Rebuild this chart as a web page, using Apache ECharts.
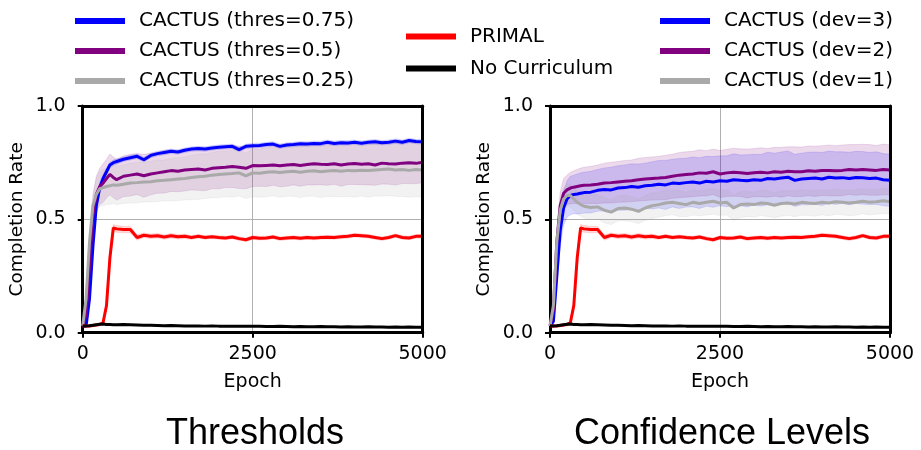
<!DOCTYPE html>
<html>
<head>
<meta charset="utf-8">
<script src="https://cdn.jsdelivr.net/npm/echarts@6/dist/echarts.min.js"></script>
<style>
  html, body { margin: 0; padding: 0; background: #fff; }
  #main { width: 921px; height: 450px; }
</style>
</head>
<body>
<div id="main"></div>
<script>
// epochs sampled from the curves
const epochs = [0,50,100,150,200,250,300,350,400,450,500,
  600,700,800,900,1000,1100,1200,1300,1400,1500,
  1600,1700,1800,1900,2000,2100,2200,2300,2400,2500,
  2600,2700,2800,2900,3000,3100,3200,3300,3400,3500,
  3600,3700,3800,3900,4000,4100,4200,4300,4400,4500,
  4600,4700,4800,4900,5000];

// left panel: thresholds
const thresBlue = [0.03,0.03,0.15,0.38,0.56,0.64,0.68,0.71,0.74,0.75,0.755,
  0.765,0.772,0.778,0.763,0.782,0.79,0.795,0.8,0.797,0.805,
  0.81,0.812,0.81,0.815,0.818,0.82,0.822,0.808,0.822,0.825,
  0.826,0.83,0.832,0.822,0.828,0.83,0.833,0.832,0.835,0.834,
  0.84,0.835,0.838,0.837,0.84,0.836,0.84,0.842,0.838,0.84,
  0.845,0.84,0.848,0.843,0.842];
const thresBlueStd = [0.003,0.005,0.02,0.03,0.03,0.025,0.02,0.015,0.012,0.012,0.012,
  0.01,0.01,0.01,0.01,0.01,0.01,0.01,0.01,0.01,0.01,
  0.01,0.01,0.01,0.01,0.01,0.01,0.01,0.01,0.01,0.01,
  0.01,0.01,0.01,0.01,0.01,0.01,0.01,0.01,0.01,0.01,
  0.01,0.01,0.01,0.01,0.01,0.01,0.01,0.01,0.01,0.01,
  0.01,0.01,0.01,0.01,0.01];
const thresPurple = [0.03,0.08,0.3,0.52,0.61,0.645,0.66,0.68,0.698,0.685,0.675,
  0.69,0.695,0.7,0.692,0.7,0.705,0.71,0.715,0.712,0.718,
  0.72,0.722,0.718,0.725,0.728,0.73,0.733,0.73,0.725,0.737,
  0.736,0.738,0.74,0.736,0.74,0.742,0.738,0.742,0.745,0.743,
  0.742,0.745,0.74,0.744,0.746,0.743,0.745,0.74,0.748,0.745,
  0.744,0.748,0.75,0.747,0.752];
const thresPurpleStd = [0.003,0.03,0.06,0.08,0.08,0.08,0.085,0.085,0.09,0.09,0.09,
  0.09,0.092,0.09,0.095,0.092,0.09,0.094,0.092,0.09,0.093,
  0.09,0.094,0.092,0.09,0.093,0.09,0.092,0.094,0.09,0.092,
  0.09,0.093,0.09,0.092,0.094,0.09,0.092,0.09,0.093,0.09,
  0.092,0.09,0.094,0.09,0.092,0.09,0.093,0.09,0.092,0.09,
  0.093,0.09,0.092,0.09,0.09];
const thresGray = [0.03,0.15,0.4,0.56,0.61,0.635,0.64,0.645,0.648,0.652,0.65,
  0.655,0.66,0.662,0.665,0.666,0.67,0.672,0.675,0.678,0.68,
  0.685,0.688,0.69,0.695,0.698,0.7,0.702,0.705,0.692,0.705,
  0.703,0.708,0.71,0.707,0.71,0.712,0.708,0.712,0.714,0.71,
  0.713,0.715,0.712,0.716,0.714,0.717,0.715,0.718,0.72,0.722,
  0.718,0.72,0.716,0.72,0.718];
const thresGrayStd = [0.003,0.03,0.05,0.06,0.07,0.075,0.08,0.08,0.082,0.082,0.085,
  0.085,0.088,0.09,0.088,0.09,0.092,0.09,0.094,0.095,0.095,
  0.098,0.1,0.098,0.1,0.102,0.1,0.104,0.102,0.1,0.105,
  0.105,0.108,0.106,0.11,0.108,0.11,0.112,0.11,0.112,0.114,
  0.112,0.115,0.113,0.115,0.116,0.114,0.117,0.115,0.118,0.118,
  0.116,0.12,0.118,0.12,0.12];

// baselines (same in both panels)
const primal = [0.03,0.03,0.03,0.032,0.034,0.036,0.045,0.12,0.33,0.462,0.458,
  0.455,0.455,0.42,0.43,0.425,0.428,0.422,0.428,0.423,0.425,
  0.42,0.425,0.42,0.423,0.42,0.418,0.422,0.415,0.41,0.42,
  0.417,0.418,0.422,0.415,0.418,0.42,0.417,0.42,0.418,0.42,
  0.421,0.42,0.423,0.425,0.43,0.428,0.425,0.42,0.415,0.42,
  0.428,0.42,0.418,0.425,0.425];
const primalStd = [0.002,0.002,0.002,0.003,0.003,0.004,0.006,0.02,0.03,0.015,0.015,
  0.014,0.014,0.012,0.01,0.01,0.01,0.01,0.01,0.01,0.01,
  0.008,0.008,0.008,0.008,0.008,0.008,0.008,0.008,0.008,0.008,
  0.008,0.008,0.008,0.008,0.008,0.008,0.008,0.008,0.008,0.008,
  0.008,0.008,0.008,0.008,0.008,0.008,0.008,0.008,0.008,0.008,
  0.008,0.008,0.008,0.008,0.008];
const noCurr = [0.03,0.03,0.031,0.033,0.035,0.037,0.038,0.036,0.036,0.035,0.035,
  0.036,0.035,0.034,0.033,0.033,0.032,0.031,0.032,0.031,0.03,
  0.03,0.03,0.029,0.03,0.029,0.029,0.028,0.028,0.029,0.028,
  0.028,0.027,0.027,0.028,0.027,0.026,0.027,0.026,0.026,0.027,
  0.026,0.026,0.025,0.026,0.025,0.025,0.026,0.025,0.025,0.024,
  0.025,0.024,0.025,0.024,0.024];

// right panel: confidence levels
const devBlue = [0.03,0.05,0.25,0.45,0.55,0.59,0.605,0.61,0.612,0.615,0.618,
  0.62,0.628,0.632,0.63,0.638,0.64,0.645,0.642,0.648,0.65,
  0.655,0.652,0.66,0.658,0.662,0.665,0.66,0.668,0.665,0.67,
  0.668,0.675,0.672,0.67,0.675,0.672,0.68,0.678,0.682,0.686,
  0.672,0.678,0.68,0.682,0.678,0.686,0.682,0.684,0.68,0.685,
  0.683,0.68,0.682,0.675,0.672];
const devBlueStd = [0.003,0.03,0.06,0.07,0.075,0.08,0.085,0.085,0.088,0.09,0.09,
  0.092,0.092,0.095,0.1,0.098,0.1,0.1,0.102,0.1,0.104,
  0.105,0.108,0.105,0.11,0.108,0.11,0.112,0.11,0.112,0.11,
  0.112,0.114,0.112,0.115,0.112,0.114,0.116,0.114,0.115,0.116,
  0.115,0.114,0.116,0.115,0.117,0.115,0.116,0.114,0.116,0.115,
  0.116,0.115,0.116,0.115,0.115];
const devPurple = [0.03,0.1,0.4,0.56,0.615,0.63,0.638,0.642,0.645,0.648,0.65,
  0.652,0.655,0.66,0.662,0.665,0.668,0.67,0.675,0.678,0.68,
  0.682,0.685,0.69,0.695,0.698,0.7,0.705,0.703,0.71,0.7,
  0.705,0.708,0.706,0.702,0.706,0.708,0.705,0.71,0.708,0.712,
  0.71,0.71,0.714,0.712,0.715,0.716,0.714,0.716,0.72,0.718,
  0.72,0.718,0.716,0.72,0.718];
const devPurpleStd = [0.003,0.03,0.05,0.06,0.065,0.065,0.07,0.072,0.075,0.078,0.08,
  0.082,0.085,0.088,0.09,0.09,0.092,0.092,0.094,0.095,0.095,
  0.096,0.098,0.097,0.1,0.1,0.1,0.102,0.1,0.1,0.104,
  0.104,0.106,0.105,0.108,0.106,0.108,0.107,0.108,0.11,0.108,
  0.11,0.109,0.11,0.111,0.11,0.112,0.111,0.112,0.11,0.112,
  0.111,0.112,0.11,0.112,0.11];
const devGray = [0.03,0.12,0.4,0.54,0.59,0.605,0.605,0.59,0.575,0.565,0.558,
  0.552,0.555,0.54,0.532,0.548,0.55,0.545,0.535,0.55,0.56,
  0.565,0.572,0.575,0.57,0.565,0.575,0.57,0.575,0.58,0.572,
  0.575,0.55,0.565,0.568,0.565,0.572,0.57,0.562,0.57,0.572,
  0.568,0.575,0.572,0.57,0.575,0.572,0.578,0.575,0.572,0.575,
  0.58,0.575,0.578,0.582,0.578];
const devGrayStd = [0.003,0.02,0.04,0.05,0.05,0.05,0.05,0.05,0.052,0.052,0.052,
  0.055,0.054,0.056,0.055,0.055,0.056,0.055,0.054,0.055,0.056,
  0.055,0.056,0.055,0.057,0.055,0.056,0.055,0.056,0.057,0.055,
  0.056,0.055,0.057,0.056,0.055,0.056,0.057,0.055,0.056,0.055,
  0.056,0.057,0.055,0.056,0.055,0.057,0.056,0.055,0.056,0.057,
  0.055,0.056,0.055,0.056,0.055];

const xTicks = [0, 2500, 5000];
const yTicks = [0, 0.5, 1.0];

const BLUE = '#0000ff', PURPLE = '#800080', GRAY = '#a9a9a9', RED = '#ff0000', BLACK = '#000000';

function rgba(hex, a) {
  const n = parseInt(hex.slice(1), 16);
  return 'rgba(' + (n >> 16 & 255) + ',' + (n >> 8 & 255) + ',' + (n & 255) + ',' + a + ')';
}

// shaded mean +/- std band as one polygon placed with the axis scales
function band(g, mean, std, color) {
  const upper = epochs.map((e, i) => [e, mean[i] + std[i]]);
  const lower = epochs.map((e, i) => [e, mean[i] - std[i]]).reverse();
  const pts = upper.concat(lower);
  return {
    type: 'custom', xAxisIndex: g, yAxisIndex: g, silent: true, z: 1, clip: true,
    data: [0],
    renderItem: (params, api) => ({
      type: 'polygon',
      shape: { points: pts.map(p => api.coord(p)) },
      style: { fill: rgba(color, 0.15), stroke: rgba(color, 0.12), lineWidth: 1 }
    })
  };
}

function line(name, g, mean, color) {
  return {
    type: 'line', name: name, xAxisIndex: g, yAxisIndex: g,
    data: epochs.map((e, i) => [e, mean[i]]),
    symbol: 'none', showSymbol: false, z: 3,
    lineStyle: { width: 3, color: color }, itemStyle: { color: color },
    emphasis: { disabled: true }
  };
}

const panels = [
  { lines: [['CACTUS (thres=0.75)', thresBlue, thresBlueStd, BLUE],
            ['CACTUS (thres=0.5)', thresPurple, thresPurpleStd, PURPLE],
            ['CACTUS (thres=0.25)', thresGray, thresGrayStd, GRAY]] },
  { lines: [['CACTUS (dev=3)', devBlue, devBlueStd, BLUE],
            ['CACTUS (dev=2)', devPurple, devPurpleStd, PURPLE],
            ['CACTUS (dev=1)', devGray, devGrayStd, GRAY]] }
];

const series = [];
panels.forEach((p, g) => {
  p.lines.forEach(l => series.push(band(g, l[1], l[2], l[3])));
  series.push(band(g, primal, primalStd, RED));
});
panels.forEach((p, g) => {
  p.lines.forEach(l => series.push(line(l[0], g, l[1], l[3])));
  series.push(line('PRIMAL', g, primal, RED));
  series.push(line('No Curriculum', g, noCurr, BLACK));
});

const FONT = 'DejaVu Sans';
const grids = [
  { left: 82.7, width: 340, top: 106, height: 226.7 },
  { left: 550, width: 340, top: 106, height: 226.7 }
];

function mainX(g) {
  return {
    gridIndex: g, type: 'value', min: 0, max: 5000, interval: 2500,
    name: 'Epoch', nameLocation: 'middle', nameGap: 40,
    nameTextStyle: { fontFamily: FONT, fontSize: 19, color: '#000' },
    axisLine: { show: true, lineStyle: { color: '#000', width: 3 } },
    axisTick: { show: true, length: 5, lineStyle: { color: '#000', width: 2 } },
    axisLabel: { margin: 12, fontFamily: FONT, fontSize: 19, color: '#000',
      formatter: v => xTicks.indexOf(v) >= 0 ? String(v) : '' },
    splitLine: { show: true, lineStyle: { color: '#b0b0b0', width: 1 } }
  };
}
function mainY(g) {
  return {
    gridIndex: g, type: 'value', min: 0, max: 1, interval: 0.5,
    name: 'Completion Rate', nameLocation: 'middle', nameGap: 56,
    nameTextStyle: { fontFamily: FONT, fontSize: 18.5, color: '#000' },
    axisLine: { show: true, lineStyle: { color: '#000', width: 3 } },
    axisTick: { show: true, length: 5, lineStyle: { color: '#000', width: 2 } },
    axisLabel: { margin: 17, fontFamily: FONT, fontSize: 19, color: '#000',
      formatter: v => yTicks.indexOf(v) >= 0 ? v.toFixed(1) : '' },
    splitLine: { show: true, lineStyle: { color: '#b0b0b0', width: 1 } }
  };
}
function frame(g, pos, min, max) {
  return {
    gridIndex: g, type: 'value', position: pos, min: min, max: max, z: 10,
    axisLine: { show: true, onZero: false, lineStyle: { color: '#000', width: 3 } },
    axisTick: { show: false }, axisLabel: { show: false }, splitLine: { show: false }
  };
}

const legendText = { fontFamily: FONT, fontSize: 20, color: '#000', lineHeight: 20, padding: [0, 0, 0, 9] };
function legend(left, top, gap, names) {
  return {
    orient: 'vertical', left: left, top: top, padding: 0, itemGap: gap,
    icon: 'rect', itemWidth: 50, itemHeight: 6, selectedMode: false,
    textStyle: legendText, data: names
  };
}

const option = {
  animation: false,
  backgroundColor: '#fff',
  grid: grids,
  xAxis: [mainX(0), mainX(1), frame(0, 'top', 0, 5000), frame(1, 'top', 0, 5000)],
  yAxis: [mainY(0), mainY(1), frame(0, 'right', 0, 1), frame(1, 'right', 0, 1)],
  legend: [
    legend(75, 11, 10, ['CACTUS (thres=0.75)', 'CACTUS (thres=0.5)', 'CACTUS (thres=0.25)']),
    legend(406, 26.5, 12, ['PRIMAL', 'No Curriculum']),
    legend(660, 11, 10, ['CACTUS (dev=3)', 'CACTUS (dev=2)', 'CACTUS (dev=1)'])
  ],
  graphic: [
    { type: 'text', x: 255, y: 434, style: { text: 'Thresholds', font: '36px "Liberation Sans"', fill: '#000', textAlign: 'center', textVerticalAlign: 'middle' } },
    { type: 'text', x: 722, y: 434, style: { text: 'Confidence Levels', font: '36px "Liberation Sans"', fill: '#000', textAlign: 'center', textVerticalAlign: 'middle' } }
  ],
  series: series
};

const chart = echarts.init(document.getElementById('main'), null, { renderer: 'canvas' });
chart.setOption(option);
</script>
</body>
</html>
